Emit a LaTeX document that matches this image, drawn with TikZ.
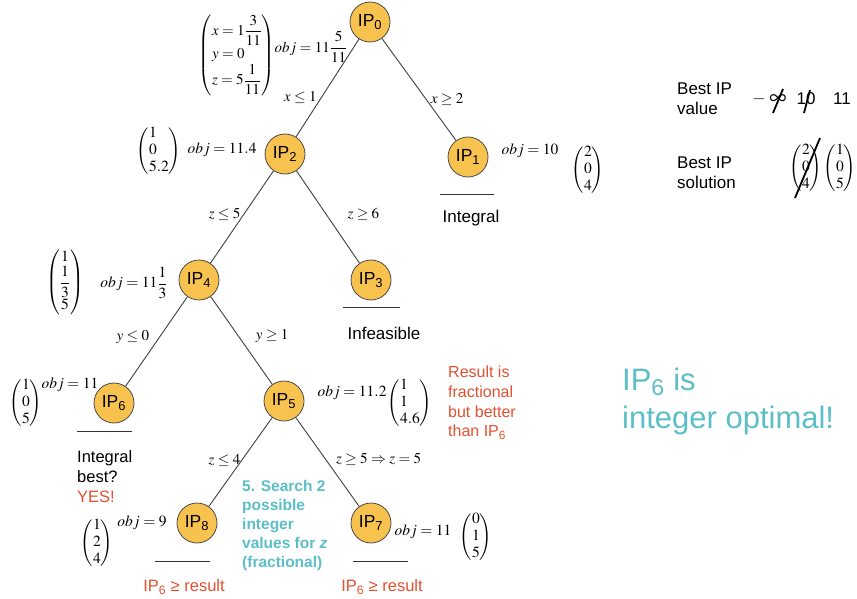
\documentclass[tikz,border=0pt]{standalone}
\usepackage{amsmath}
\usepackage{mathptmx}
\usepackage[no-math]{fontspec}
\setmainfont{Liberation Sans}
\definecolor{ipfill}{HTML}{F8C24F}
\definecolor{ipborder}{HTML}{4A4A4A}
\definecolor{redtxt}{HTML}{E2502F}
\definecolor{tealtxt}{HTML}{5CBEC6}
\newcommand{\vcol}[1]{\left(\renewcommand{\arraystretch}{0.95}\begin{array}{@{}l@{}}#1\end{array}\right)}
\begin{document}
\begin{tikzpicture}[x=1pt,y=-1pt,
  ip/.style={circle, draw=ipborder, fill=ipfill, line width=0.8pt, minimum size=40pt, inner sep=0pt, font=\fontsize{17.5}{20}\selectfont},
  lbl/.style={font=\fontsize{15}{18}\selectfont, inner sep=1pt},
  mth/.style={font=\fontsize{15.5}{18}\selectfont, inner sep=0pt},
  txt/.style={font=\fontsize{17}{20}\selectfont, align=left, inner sep=0pt},
  edge/.style={draw=black!72, line width=0.95pt},
  uline/.style={draw=black!80, line width=0.9pt},
  strike/.style={draw=black, line width=1.8pt}]
\useasboundingbox (0,0) rectangle (857,599);

% tree nodes
\node[ip] (p0) at (370,22) {IP\textsubscript{0}};
\node[ip] (p2) at (285,154) {IP\textsubscript{2}};
\node[ip] (p1) at (468,157) {IP\textsubscript{1}};
\node[ip] (p4) at (199,280) {IP\textsubscript{4}};
\node[ip] (p3) at (371,280) {IP\textsubscript{3}};
\node[ip] (p6) at (114,403) {IP\textsubscript{6}};
\node[ip] (p5) at (284,401) {IP\textsubscript{5}};
\node[ip] (p8) at (197,523) {IP\textsubscript{8}};
\node[ip] (p7) at (371,523) {IP\textsubscript{7}};

% connectors with labels
\draw[edge] (p0) -- (p2) node[lbl, pos=0.6, left=3pt] {$x\le 1$};
\draw[edge] (p0) -- (p1) node[lbl, pos=0.6, right=3pt] {$x\ge 2$};
\draw[edge] (p2) -- (p4) node[lbl, pos=0.47, left=2pt] {$z\le 5$};
\draw[edge] (p2) -- (p3) node[lbl, pos=0.47, right=20pt] {$z\ge 6$};
\draw[edge] (p4) -- (p6) node[lbl, pos=0.45, left=9pt] {$y\le 0$};
\draw[edge] (p4) -- (p5) node[lbl, pos=0.45, right=16pt] {$y\ge 1$};
\draw[edge] (p5) -- (p8) node[lbl, pos=0.48, left=0pt] {$z\le 4$};
\draw[edge] (p5) -- (p7) node[lbl, pos=0.47, right=9pt] {$z\ge 5\Rightarrow z=5$};

% solution vectors and objective values
\node[mth, font=\fontsize{15}{18}\selectfont] (v0) at (237,55) {$\left(\renewcommand{\arraystretch}{1.05}\begin{array}{@{}l@{}}x=1\dfrac{3}{11}\\ y=0\\ z=5\dfrac{1}{11}\end{array}\right)$};
\node[mth, font=\fontsize{15}{18}\selectfont] (o0) at (311,47) {$obj=11\dfrac{5}{11}$};
\node[mth] (v2) at (159,151) {$\vcol{1\\0\\5.2}$};
\node[mth] (o2) at (222,150) {$obj=11.4$};
\node[mth] (o1) at (530,151) {$obj=10$};
\node[mth] (v1) at (588,170) {$\vcol{2\\0\\4}$};
\node[mth] (v4) at (65,282) {$\left(\renewcommand{\arraystretch}{0.95}\begin{array}{@{}c@{}}1\\ \dfrac{1}{3}\\ 5\end{array}\right)$};
\node[mth] (o4) at (134,283) {$obj=11\dfrac{1}{3}$};
\node[mth] (v6) at (26,403) {$\vcol{1\\0\\5}$};
\node[mth] (o6) at (70,385) {$obj=11$};
\node[mth] (o5) at (352,393) {$obj=11.2$};
\node[mth] (v5) at (410,403) {$\vcol{1\\1\\4.6}$};
\node[mth] (v8) at (97,543) {$\vcol{1\\2\\4}$};
\node[mth] (o8) at (142,523) {$obj=9$};
\node[mth] (o7) at (423,532) {$obj=11$};
\node[mth] (v7) at (476,537) {$\vcol{0\\1\\5}$};

% underlines
\draw[uline] (440,194) -- (494,194);
\draw[uline] (343,307) -- (400,307);
\draw[uline] (77,431) -- (132,431);
\draw[uline] (155,561) -- (210,561);
\draw[uline] (353,561) -- (408,561);

% texts
\node[txt] (t1) at (471,218) {Integral};
\node[txt] (t3) at (384,333) {Infeasible};
\node[txt, anchor=west, font=\fontsize{16.5}{20}\selectfont] (t6) at (77,477) {Integral\\best?\\\textcolor{redtxt}{YES!}};
\node[txt, anchor=west, text=redtxt, font=\fontsize{16}{19.7}\selectfont] (t5) at (448,403) {Result is\\fractional\\but better\\than IP\textsubscript{6}};
\node[txt, anchor=west, text=tealtxt, font=\fontsize{15.5}{19}\selectfont\bfseries] (ts) at (242,525) {5. Search 2\\possible\\integer\\values for \textit{z}\\(fractional)};
\node[txt, text=redtxt, font=\fontsize{16.5}{20}\selectfont] (r8) at (184,587) {IP\textsubscript{6} ≥ result};
\node[txt, text=redtxt, font=\fontsize{16.5}{20}\selectfont] (r7) at (382,587) {IP\textsubscript{6} ≥ result};
\node[txt, anchor=west, text=tealtxt, font=\fontsize{31}{38}\selectfont] (big) at (622,401) {IP\textsubscript{6} is\\integer optimal!};

% best IP panel
\node[txt, anchor=west] (bv) at (677,99) {Best IP\\value};
\node[txt, anchor=west] (bs) at (677,173) {Best IP\\solution};
\node[mth, font=\fontsize{17}{20}\selectfont] (minus) at (759,99) {$-$};
\node[mth, font=\fontsize{24}{26}\selectfont] (inf) at (778,100) {$\infty$};
\node[txt] (ten) at (806,99) {10};
\node[txt] (eleven) at (842,99) {11};
\draw[strike] (773,113) -- (783,89);
\draw[strike] (804,113) -- (810,90);
\node[mth] (bs1) at (806,168) {$\vcol{2\\0\\4}$};
\node[mth] (bs2) at (840,168) {$\vcol{1\\0\\5}$};
\draw[strike] (820,138) -- (795,198);
\end{tikzpicture}
\end{document}
